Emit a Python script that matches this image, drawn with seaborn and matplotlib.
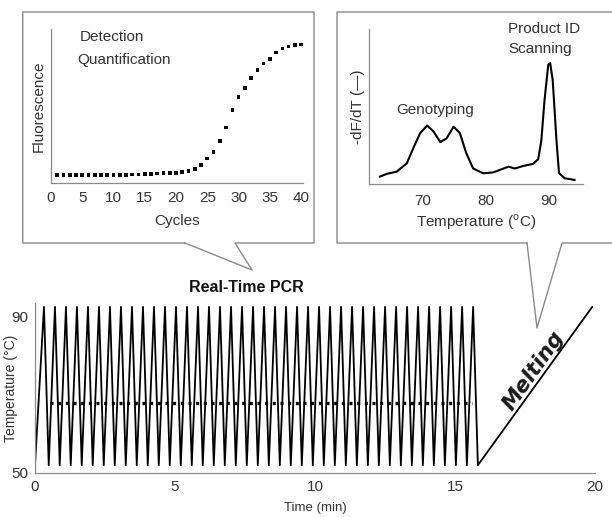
import numpy as np
import pandas as pd

import matplotlib
matplotlib.use("Agg")
import matplotlib.pyplot as plt
from matplotlib.lines import Line2D
import seaborn as sns

sns.set_theme(style="white", context="paper")
plt.rcParams["font.family"] = ["Liberation Sans", "DejaVu Sans"]

W, H = 612, 517
GREY = "#8a8a8a"
TXT = "#333333"
FS_TOP = 11

# amplification curve (cycles 1..40, arbitrary fluorescence units)
amp_cycle = list(range(1, 41))
amp_fluor = [5.0, 5.0, 5.0, 5.0, 5.0, 5.0, 5.0, 5.0, 5.0, 5.2,
             5.3, 5.4, 5.5, 5.6, 5.8, 5.9, 6.1, 6.3, 6.5, 6.7,
             7.1, 8.0, 9.1, 11.5, 16.0, 20.1, 27.3, 36.1, 47.6, 55.8,
             61.7, 68.4, 73.4, 77.7, 80.5, 84.8, 87.4, 88.7, 89.4, 90.0]

# melting curve
melt_temp = [63.2, 64.3, 65.9, 67.5, 68.5, 69.6, 70.7, 71.7, 72.8, 73.8,
             74.9, 75.9, 76.9, 78.0, 79.6, 81.2, 82.5, 83.6, 84.6, 85.9,
             87.5, 88.3, 88.8, 89.3, 89.9, 90.2, 90.6, 91.2, 91.6, 92.5, 94.1]
melt_dfdt = [4.7, 6.5, 8.0, 13.4, 23.0, 32.8, 37.7, 34.0, 27.0, 29.5,
             37.0, 32.8, 20.0, 10.0, 6.9, 7.5, 9.5, 11.2, 10.0, 11.6,
             13.0, 16.0, 28.0, 54.0, 77.0, 78.0, 67.0, 28.0, 7.0, 3.7, 2.6]

# thermal cycling protocol
n_cycles = 40
first_peak_min = 0.32
cycle_period_min = 0.393
peak_to_trough_min = 0.17
denat_temp = 92.5
anneal_temp = 52.0
melt_end = (19.9, 92.5)
acq_temp = 68.0
acq_span = (0.54, 15.6)

t_pts, T_pts = [0.0], [anneal_temp]
for k in range(n_cycles):
    p = first_peak_min + k * cycle_period_min
    t_pts += [p, p + peak_to_trough_min]
    T_pts += [denat_temp, anneal_temp]
t_pts.append(melt_end[0])
T_pts.append(melt_end[1])
pcr = pd.DataFrame({"t": t_pts, "T": T_pts})
acq = pd.DataFrame({"t": list(acq_span), "T": [acq_temp, acq_temp]})
amp = pd.DataFrame({"cycle": amp_cycle, "fluor": amp_fluor})
melt = pd.DataFrame({"temp": melt_temp, "dfdt": melt_dfdt})


def px_rect(x0, y0, x1, y1):
    return [x0 / W, 1 - y1 / H, (x1 - x0) / W, (y1 - y0) / H]


def style(ax, size):
    sns.despine(ax=ax)
    for s in ("left", "bottom"):
        ax.spines[s].set_color(GREY)
        ax.spines[s].set_linewidth(0.9)
    ax.tick_params(direction="out", length=3, width=0.8, color=GREY,
                   labelcolor=TXT, labelsize=size, pad=2)


fig = plt.figure(figsize=(W / 100, H / 100), dpi=100)

# --- amplification panel
ax1 = fig.add_axes(px_rect(51, 29, 303, 183))
sns.scatterplot(data=amp, x="cycle", y="fluor", marker="s", s=7,
                color="black", edgecolor="none", ax=ax1)
ax1.set_xlim(0, 40.3)
ax1.set_ylim(0, 100)
ax1.set_xticks(range(0, 41, 5))
ax1.set_yticks([])
style(ax1, FS_TOP)
ax1.tick_params(axis="x", length=2, pad=4)
ax1.set_xlabel("Cycles", fontsize=FS_TOP, color=TXT, labelpad=6)
ax1.set_ylabel("Fluorescence", fontsize=FS_TOP, color=TXT, labelpad=4)
ax1.text(0.116, 0.948, "Detection", transform=ax1.transAxes, fontsize=FS_TOP,
         color=TXT, va="center")
ax1.text(0.104, 0.80, "Quantification", transform=ax1.transAxes,
         fontsize=FS_TOP, color=TXT, va="center")

# --- melting panel
ax2 = fig.add_axes(px_rect(369, 29, 583, 184))
sns.lineplot(data=melt, x="temp", y="dfdt", color="black", linewidth=1.5,
             ax=ax2)
ax2.set_xlim(61.5, 95.4)
ax2.set_ylim(0, 100)
ax2.set_xticks([70, 80, 90])
ax2.set_xticks([65, 75, 85], minor=True)
ax2.set_yticks([])
style(ax2, FS_TOP)
ax2.tick_params(axis="x", which="minor", direction="in", length=2,
                width=0.8, color=GREY)
ax2.tick_params(axis="x", which="major", length=0, pad=7)
ax2.set_xlabel(r"Temperature ($^\mathregular{o}$C)", fontsize=FS_TOP,
               color=TXT, labelpad=3)
ax2.set_ylabel("-dF/dT (\u2014)", fontsize=FS_TOP, color=TXT, labelpad=3)
ax2.text(0.31, 0.48, "Genotyping", transform=ax2.transAxes, fontsize=FS_TOP,
         color=TXT, ha="center", va="center")
ax2.text(0.82, 1.0, "Product ID", transform=ax2.transAxes, fontsize=FS_TOP,
         color=TXT, ha="center", va="center")
ax2.text(0.80, 0.87, "Scanning", transform=ax2.transAxes, fontsize=FS_TOP,
         color=TXT, ha="center", va="center")

# --- thermal cycling panel
ax3 = fig.add_axes(px_rect(35, 303, 595, 473))
sns.lineplot(data=pcr, x="t", y="T", color="black", linewidth=1.3,
             sort=False, ax=ax3)
sns.lineplot(data=acq, x="t", y="T", color="black", linewidth=2.4,
             dashes=False, ax=ax3)
ax3.lines[-1].set_dashes((0.9, 1.4))
ax3.set_xlim(0, 20)
ax3.set_ylim(50, 93.5)
ax3.set_xticks([0, 5, 10, 15, 20])
ax3.set_yticks([50, 90])
style(ax3, 11)
ax3.set_xlabel("Time (min)", fontsize=9.5, color=TXT, labelpad=6)
ax3.set_ylabel("Temperature (\u00b0C)", fontsize=10, color=TXT)
ax3.yaxis.set_label_coords(-0.031, 0.5)
ax3.text(17.8, 76.2, "Melting", fontsize=15.5, fontweight="bold",
         fontstyle="italic", family=["DejaVu Sans"], rotation=55,
         ha="center", va="center", color="#1a1a1a")

fig.text(246 / W, 1 - 287 / H, "Real-Time PCR", fontsize=11.5,
         fontweight="bold", color="#111111", ha="center", va="center")

# callout boxes
boxes = [
    [(185, 243), (22.7, 243), (22.7, 12), (314, 12), (314, 243), (235, 243),
     (252, 270), (185, 243)],
    [(527, 243), (337, 243), (337, 12), (620, 12), (620, 243), (562, 243),
     (537, 328), (527, 243)],
]
for pts in boxes:
    xs = [p[0] / W for p in pts]
    ys = [1 - p[1] / H for p in pts]
    fig.add_artist(Line2D(xs, ys, transform=fig.transFigure, color=GREY,
                          linewidth=1.0))

fig.savefig("out.png", dpi=100)
